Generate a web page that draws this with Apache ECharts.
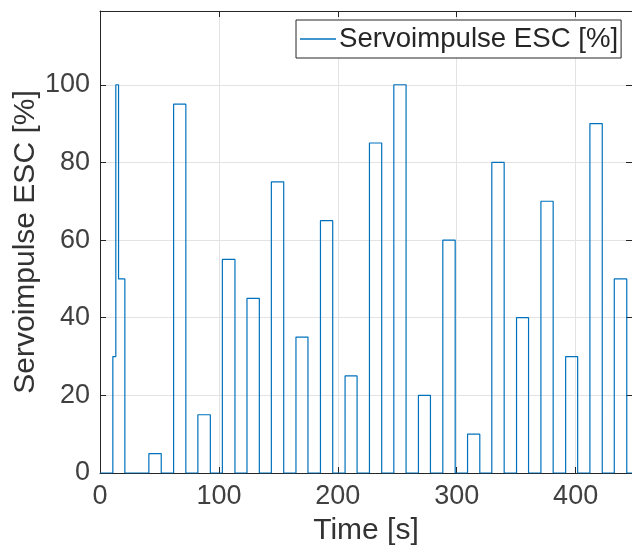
<!DOCTYPE html>
<html>
<head>
<meta charset="utf-8">
<script src="https://cdn.jsdelivr.net/npm/echarts@6/dist/echarts.min.js"></script>
<style>
html,body{margin:0;padding:0;background:#fff;}
#chart{width:632px;height:553px;}
</style>
</head>
<body>
<div id="chart"></div>
<script>
// Times [s] at which the servo pulse level changes, and the level held from that time on
const changeTimes = [0, 10.8, 13.3, 15.6, 20.9,
  41.1, 51.5, 61.9, 72.2, 82.3, 92.8, 102.9, 113.5, 123.6, 134.0,
  144.1, 154.5, 164.8, 174.9, 185.4, 195.7, 206.1, 216.2, 226.6, 236.9,
  247.1, 257.4, 267.8, 277.9, 288.3, 298.7, 309.1, 319.4, 329.5, 339.9,
  350.3, 360.4, 370.8, 381.1, 391.6, 401.7, 412.0, 422.4, 432.5, 443.0, 447.4];
const levels = [0, 30, 100, 50, 0,
  5, 0, 95, 0, 15, 0, 55, 0, 45, 0,
  75, 0, 35, 0, 65, 0, 25, 0, 85, 0,
  100, 0, 20, 0, 60, 0, 10, 0, 80, 0,
  40, 0, 70, 0, 30, 0, 90, 0, 50, 0, 0];
const xTicks = [0, 100, 200, 300, 400];
const yTicks = [0, 20, 40, 60, 80, 100];
const seriesName = 'Servoimpulse ESC [%]';
const xName = 'Time [s]';
const yName = 'Servoimpulse ESC [%]';

const data = changeTimes.map((t, i) => [t, levels[i]]);
const FONT = "'Liberation Sans', Arial, Helvetica, sans-serif";
const AX = '#262626';
const GRID = '#e3e3e3';
const xMax = 447.4, yMax = 119;

const chart = echarts.init(document.getElementById('chart'), null, {renderer: 'canvas'});
chart.setOption({
  animation: false,
  backgroundColor: '#fff',
  grid: {left: 100, top: 11, right: 0, bottom: 80, containLabel: false, outerBoundsMode: 'none'},
  legend: {
    left: 296, top: 20,
    padding: [5, 3, 5, 4],
    backgroundColor: '#fff',
    borderColor: '#262626', borderWidth: 1, borderRadius: 0,
    itemWidth: 36, itemHeight: 1.5, itemGap: 0,
    textStyle: {fontFamily: FONT, fontSize: 27.6, color: '#262626', padding: [0, 0, 0, -2], lineHeight: 28},
    data: [{name: seriesName, icon: 'rect'}]
  },
  xAxis: [{
    type: 'value', min: 0, max: xMax, interval: 100,
    name: xName, nameLocation: 'middle', nameGap: 43, nameMoveOverlap: false,
    nameTextStyle: {fontFamily: FONT, fontSize: 30, color: '#333'},
    axisLine: {show: true, onZero: false, lineStyle: {color: AX, width: 1}},
    axisTick: {show: true, inside: true, length: 6, lineStyle: {color: AX}},
    axisLabel: {fontFamily: FONT, fontSize: 27, color: '#404040', margin: 10,
      formatter: v => xTicks.indexOf(v) >= 0 ? String(v) : ''},
    splitLine: {show: true, lineStyle: {color: GRID, width: 1}}
  }, {
    type: 'value', position: 'top', min: 0, max: xMax, interval: 100,
    axisLine: {show: true, onZero: false, lineStyle: {color: AX, width: 1}},
    axisTick: {show: true, inside: true, length: 6, lineStyle: {color: AX}},
    axisLabel: {show: false}, splitLine: {show: false}
  }],
  yAxis: [{
    type: 'value', min: 0, max: yMax, interval: 20,
    name: yName, nameLocation: 'middle', nameGap: 59, nameRotate: 90, nameMoveOverlap: false,
    nameTextStyle: {fontFamily: FONT, fontSize: 30, color: '#333'},
    axisLine: {show: true, onZero: false, lineStyle: {color: AX, width: 1}},
    axisTick: {show: true, inside: true, length: 6, lineStyle: {color: AX}},
    axisLabel: {fontFamily: FONT, fontSize: 27, color: '#404040', margin: 10,
      formatter: v => yTicks.indexOf(v) >= 0 ? String(v) : ''},
    splitLine: {show: true, lineStyle: {color: GRID, width: 1}}
  }, {
    type: 'value', position: 'right', min: 0, max: yMax, interval: 20,
    axisLine: {show: true, onZero: false, lineStyle: {color: AX, width: 1}},
    axisTick: {show: true, inside: true, length: 6, lineStyle: {color: AX}},
    axisLabel: {show: false}, splitLine: {show: false}
  }],
  series: [{
    name: seriesName,
    type: 'line',
    xAxisIndex: 0, yAxisIndex: 0,
    step: 'end',
    symbol: 'none',
    data: data,
    lineStyle: {color: '#0072BD', width: 1.2},
    itemStyle: {color: '#0072BD'}
  }]
});
</script>
</body>
</html>
